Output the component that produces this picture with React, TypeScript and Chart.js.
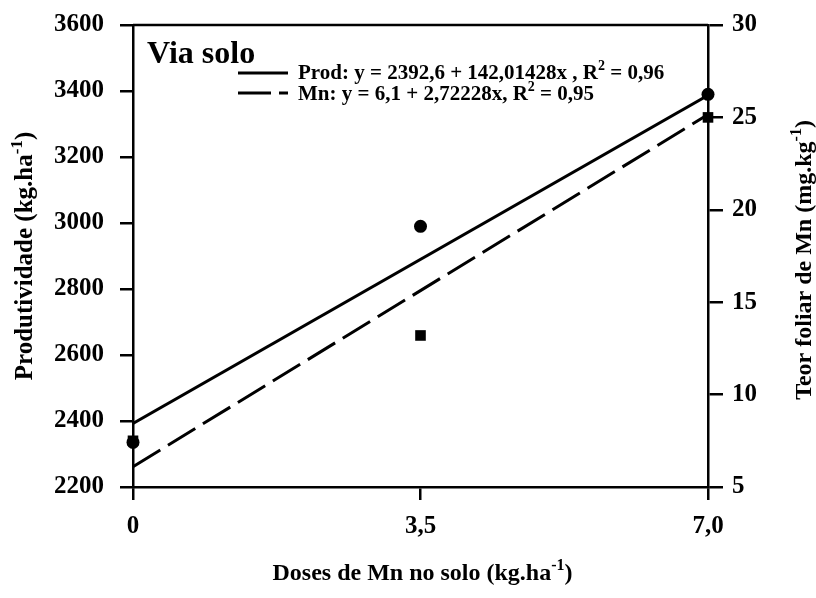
import React, { useEffect, useRef } from 'react';
import { Chart, registerables } from 'chart.js';

Chart.register(...registerables);

const FONT = "'Liberation Serif', 'Times New Roman', serif";

// Categories (doses of Mn, kg/ha)
const doses = [0, 3.5, 7];
const doseTickLabels = ['0', '3,5', '7,0'];

// Observed values
const prodValues = [2335, 2990, 3390]; // Produtividade (kg/ha) – circles
const mnValues = [7.5, 13.2, 25.0]; // Teor foliar de Mn (mg/kg) – squares

// Regression coefficients [intercept, slope] as printed in the legend
const prodFit = [2392.6, 142.01428];
const mnFit = [6.1, 2.72228];
const fitX = [0, 7];

// Axis ranges [min, max, step]
const prodAxis = [2200, 3600, 200];
const mnAxis = [5, 30, 5];

type Part = [string, boolean];

function drawRich(ctx: CanvasRenderingContext2D, parts: Part[], x: number, y: number, size: number, align: 'left' | 'center') {
  const supSize = Math.round(size * 0.68);
  let total = 0;
  const widths = parts.map(([t, sup]) => {
    ctx.font = `bold ${sup ? supSize : size}px ${FONT}`;
    const w = ctx.measureText(t).width;
    total += w;
    return w;
  });
  let cx = align === 'center' ? x - total / 2 : x;
  ctx.textAlign = 'left';
  ctx.textBaseline = 'alphabetic';
  parts.forEach(([t, sup], i) => {
    ctx.font = `bold ${sup ? supSize : size}px ${FONT}`;
    ctx.fillText(t, cx, sup ? y - size * 0.42 : y);
    cx += widths[i];
  });
}

const annotations = {
  id: 'annotations',
  afterDraw(chart: any) {
    const { ctx, chartArea } = chart;
    ctx.save();
    ctx.fillStyle = '#000';
    ctx.strokeStyle = '#000';
    // top frame line
    ctx.lineWidth = 2.5;
    ctx.beginPath();
    ctx.moveTo(chartArea.left, chartArea.top);
    ctx.lineTo(chartArea.right, chartArea.top);
    ctx.stroke();

    // panel title
    ctx.font = `bold 32px ${FONT}`;
    ctx.textAlign = 'left';
    ctx.textBaseline = 'alphabetic';
    ctx.fillText('Via solo', chartArea.left + 14, 63);

    // legend
    ctx.lineWidth = 3;
    ctx.setLineDash([]);
    ctx.beginPath();
    ctx.moveTo(238, 73);
    ctx.lineTo(288, 73);
    ctx.stroke();
    ctx.setLineDash([33, 8]);
    ctx.beginPath();
    ctx.moveTo(238, 93);
    ctx.lineTo(288, 93);
    ctx.stroke();
    ctx.setLineDash([]);
    drawRich(ctx, [['Prod: y = 2392,6 + 142,01428x , R', false], ['2', true], [' = 0,96', false]], 298, 79, 21, 'left');
    drawRich(ctx, [['Mn: y = 6,1 + 2,72228x, R', false], ['2', true], [' = 0,95', false]], 298, 100, 21, 'left');

    // axis titles
    const midY = (chartArea.top + chartArea.bottom) / 2;
    drawRich(ctx, [['Doses de Mn no solo (kg.ha', false], ['-1', true], [')', false]], (chartArea.left + chartArea.right) / 2 + 2, 580, 24, 'center');

    ctx.save();
    ctx.translate(32, midY);
    ctx.rotate(-Math.PI / 2);
    drawRich(ctx, [['Produtividade (kg.ha', false], ['-1', true], [')', false]], 0, 0, 25, 'center');
    ctx.restore();

    ctx.save();
    ctx.translate(811, midY + 4);
    ctx.rotate(-Math.PI / 2);
    drawRich(ctx, [['Teor foliar de Mn (mg.kg', false], ['-1', true], [')', false]], 0, 0, 24, 'center');
    ctx.restore();

    ctx.restore();
  },
};

export default function App() {
  const ref = useRef<HTMLCanvasElement>(null);

  useEffect(() => {
    document.body.style.margin = '0';
    const tickFont = { family: FONT, size: 25, weight: 'bold' as const };
    const chart = new Chart(ref.current as HTMLCanvasElement, {
      type: 'scatter',
      data: {
        datasets: [
          {
            label: 'Prod',
            data: doses.map((d, i) => ({ x: d, y: prodValues[i] })),
            yAxisID: 'y',
            pointStyle: 'circle',
            pointRadius: 6.5,
            backgroundColor: '#000',
            borderColor: '#000',
            borderWidth: 0,
            showLine: false,
            clip: false,
            order: 1,
          },
          {
            label: 'Mn',
            data: doses.map((d, i) => ({ x: d, y: mnValues[i] })),
            yAxisID: 'y1',
            pointStyle: 'rect',
            pointRadius: 7.5,
            backgroundColor: '#000',
            borderColor: '#000',
            borderWidth: 0,
            showLine: false,
            clip: false,
            order: 2,
          },
          {
            label: 'Prod fit',
            data: fitX.map((x) => ({ x, y: prodFit[0] + prodFit[1] * x })),
            yAxisID: 'y',
            showLine: true,
            borderColor: '#000',
            borderWidth: 3,
            pointRadius: 0,
            order: 3,
          },
          {
            label: 'Mn fit',
            data: fitX.map((x) => ({ x, y: mnFit[0] + mnFit[1] * x })),
            yAxisID: 'y1',
            showLine: true,
            borderColor: '#000',
            borderWidth: 3,
            borderDash: [32, 9],
            pointRadius: 0,
            order: 4,
          },
        ],
      },
      options: {
        animation: false,
        responsive: false,
        maintainAspectRatio: false,
        layout: { padding: { top: 25, left: 0, right: 0, bottom: 0 } },
        plugins: { legend: { display: false }, tooltip: { enabled: false } },
        scales: {
          x: {
            type: 'linear',
            min: 0,
            max: 7,
            afterBuildTicks: (s: any) => {
              s.ticks = doses.map((v) => ({ value: v }));
            },
            afterFit: (s: any) => {
              s.height = 111;
              s.paddingLeft = 0;
              s.paddingRight = 0;
            },
            ticks: {
              autoSkip: false,
              maxRotation: 0,
              padding: 12,
              color: '#000',
              font: tickFont,
              callback: (_v: any, i: number) => doseTickLabels[i],
            },
            grid: { drawOnChartArea: false, tickLength: 13, color: '#000', lineWidth: 2.5 },
            border: { color: '#000', width: 2.5 },
          },
          y: {
            type: 'linear',
            position: 'left',
            min: prodAxis[0],
            max: prodAxis[1],
            afterFit: (s: any) => {
              s.width = 133;
              s.paddingTop = 0;
              s.paddingBottom = 0;
            },
            ticks: {
              stepSize: prodAxis[2],
              padding: 16,
              color: '#000',
              font: tickFont,
              callback: (v: any) => String(v),
            },
            grid: { drawOnChartArea: false, tickLength: 13, color: '#000', lineWidth: 2.5 },
            border: { color: '#000', width: 2.5 },
          },
          y1: {
            type: 'linear',
            position: 'right',
            min: mnAxis[0],
            max: mnAxis[1],
            afterFit: (s: any) => {
              s.width = 108;
              s.paddingTop = 0;
              s.paddingBottom = 0;
            },
            ticks: {
              stepSize: mnAxis[2],
              padding: 9,
              color: '#000',
              font: tickFont,
              callback: (v: any) => String(v),
            },
            grid: { drawOnChartArea: false, tickLength: 15, color: '#000', lineWidth: 2.5 },
            border: { color: '#000', width: 2.5 },
          },
        },
      },
      plugins: [annotations],
    } as any);
    return () => chart.destroy();
  }, []);

  return (
    <div style={{ width: 816, height: 598, background: '#fff' }}>
      <canvas ref={ref} width={816} height={598} style={{ display: 'block' }} />
    </div>
  );
}
